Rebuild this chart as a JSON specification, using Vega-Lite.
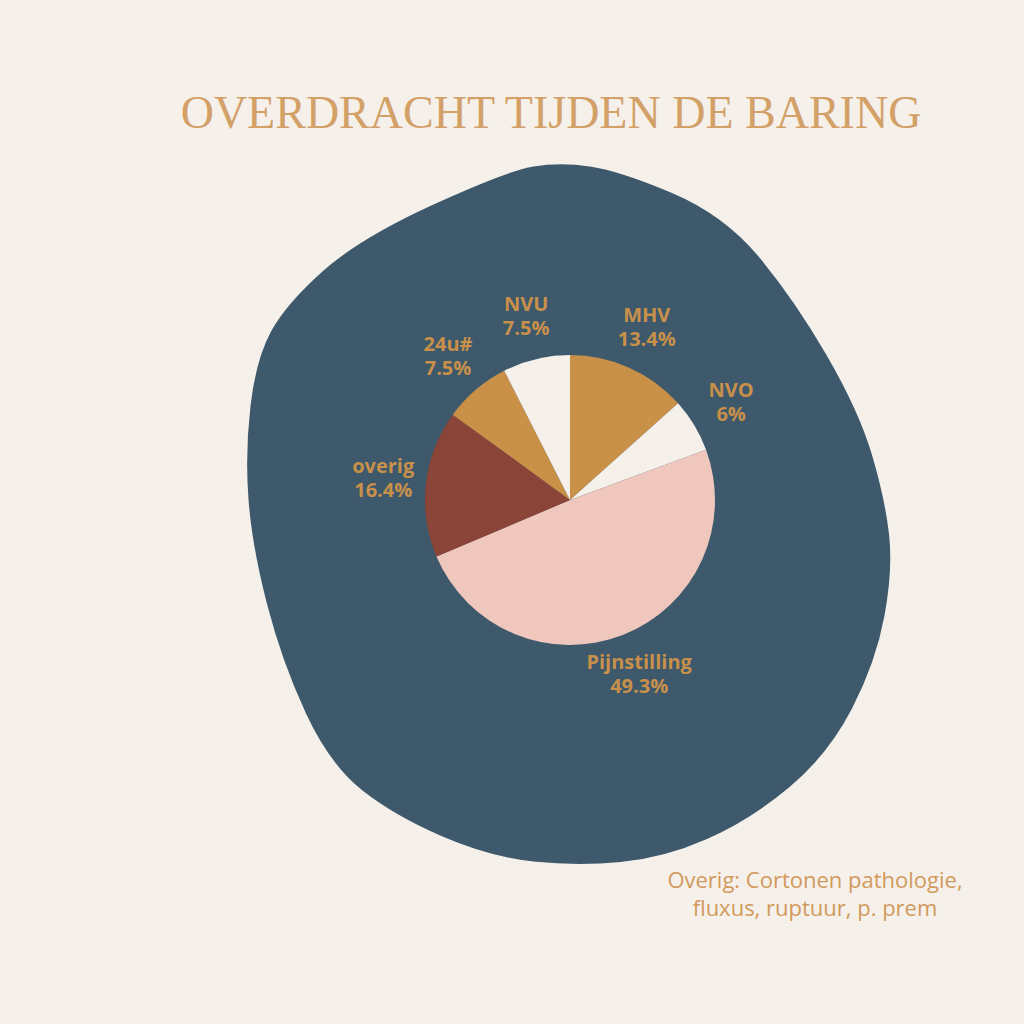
{
  "$schema": "https://vega.github.io/schema/vega-lite/v6.json",
  "width": 908,
  "height": 680,
  "autosize": {"type": "none"},
  "padding": {"left": 116, "top": 160, "right": 0, "bottom": 184},
  "background": "#F5F0EA",
  "config": {"view": {"stroke": null}},
  "title": {
    "text": "OVERDRACHT TIJDEN DE BARING",
    "font": "Liberation Serif",
    "fontSize": 46,
    "fontWeight": "normal",
    "color": "#D3A068",
    "anchor": "middle",
    "frame": "group",
    "dx": -19,
    "dy": 46,
    "offset": 32,
    "baseline": "alphabetic"
  },
  "datasets": {
    "slices": [
      {"idx": 1, "category": "MHV", "value": 13.4, "label": "13.4%"},
      {"idx": 2, "category": "NVO", "value": 6, "label": "6%"},
      {"idx": 3, "category": "Pijnstilling", "value": 49.3, "label": "49.3%"},
      {"idx": 4, "category": "overig", "value": 16.4, "label": "16.4%"},
      {"idx": 5, "category": "24u#", "value": 7.5, "label": "7.5%"},
      {"idx": 6, "category": "NVU", "value": 7.5, "label": "7.5%"}
    ],
    "blob": [{"name": "background shape"}],
    "note": [{"line1": "Overig: Cortonen pathologie,", "line2": "fluxus, ruptuur, p. prem"}]
  },
  "layer": [
    {
      "data": {"name": "blob"},
      "mark": {
        "type": "point",
        "shape": "M -0.365 -3.335 Q -0.10 -3.38 0.20 -3.335 Q 0.50 -3.29 1.02 -3.07 Q 1.54 -2.85 1.89 -2.43 Q 2.24 -2.01 2.565 -1.45 Q 2.89 -0.89 3.02 -0.45 Q 3.15 -0.01 3.19 0.34 Q 3.23 0.69 3.145 1.155 Q 3.06 1.62 2.82 2.085 Q 2.58 2.55 2.19 2.875 Q 1.80 3.20 1.37 3.39 Q 0.94 3.58 0.505 3.62 Q 0.07 3.66 -0.365 3.615 Q -0.80 3.57 -1.275 3.365 Q -1.75 3.16 -2.075 2.905 Q -2.40 2.65 -2.64 2.135 Q -2.88 1.62 -3.03 1.04 Q -3.18 0.46 -3.215 -0.005 Q -3.25 -0.47 -3.195 -0.94 Q -3.14 -1.41 -2.99 -1.685 Q -2.84 -1.96 -2.47 -2.29 Q -2.10 -2.62 -1.365 -2.955 Q -0.63 -3.29 -0.365 -3.335 Z",
        "size": 40000,
        "filled": true,
        "color": "#3D596B",
        "opacity": 1,
        "strokeWidth": 0
      },
      "encoding": {}
    },
    {
      "data": {"name": "slices"},
      "mark": {"type": "arc", "outerRadius": 145},
      "encoding": {
        "theta": {"field": "value", "type": "quantitative", "stack": true},
        "order": {"field": "idx", "type": "quantitative"},
        "color": {
          "field": "category",
          "type": "nominal",
          "scale": {
            "domain": ["MHV", "NVO", "Pijnstilling", "overig", "24u#", "NVU"],
            "range": ["#C99048", "#F5F0EA", "#EFC7BC", "#8A4438", "#C99048", "#F5F0EA"]
          },
          "legend": null
        }
      }
    },
    {
      "data": {"name": "slices"},
      "mark": {"type": "text", "radius": 188, "dy": -12, "font": "Open Sans", "fontWeight": "bold", "fontSize": 20, "color": "#C8904A", "align": "center", "baseline": "middle"},
      "encoding": {
        "theta": {"field": "value", "type": "quantitative", "stack": true},
        "order": {"field": "idx", "type": "quantitative"},
        "text": {"field": "category", "type": "nominal"}
      }
    },
    {
      "data": {"name": "slices"},
      "mark": {"type": "text", "radius": 188, "dy": 12, "font": "Open Sans", "fontWeight": "bold", "fontSize": 20, "color": "#C8904A", "align": "center", "baseline": "middle"},
      "encoding": {
        "theta": {"field": "value", "type": "quantitative", "stack": true},
        "order": {"field": "idx", "type": "quantitative"},
        "text": {"field": "label", "type": "nominal"}
      }
    },
    {
      "data": {"name": "note"},
      "mark": {"type": "text", "x": 699, "y": 728, "font": "Open Sans", "fontSize": 22, "color": "#D29A5C", "align": "center", "baseline": "alphabetic"},
      "encoding": {"text": {"field": "line1", "type": "nominal"}}
    },
    {
      "data": {"name": "note"},
      "mark": {"type": "text", "x": 699, "y": 756, "font": "Open Sans", "fontSize": 22, "color": "#D29A5C", "align": "center", "baseline": "alphabetic"},
      "encoding": {"text": {"field": "line2", "type": "nominal"}}
    }
  ]
}
